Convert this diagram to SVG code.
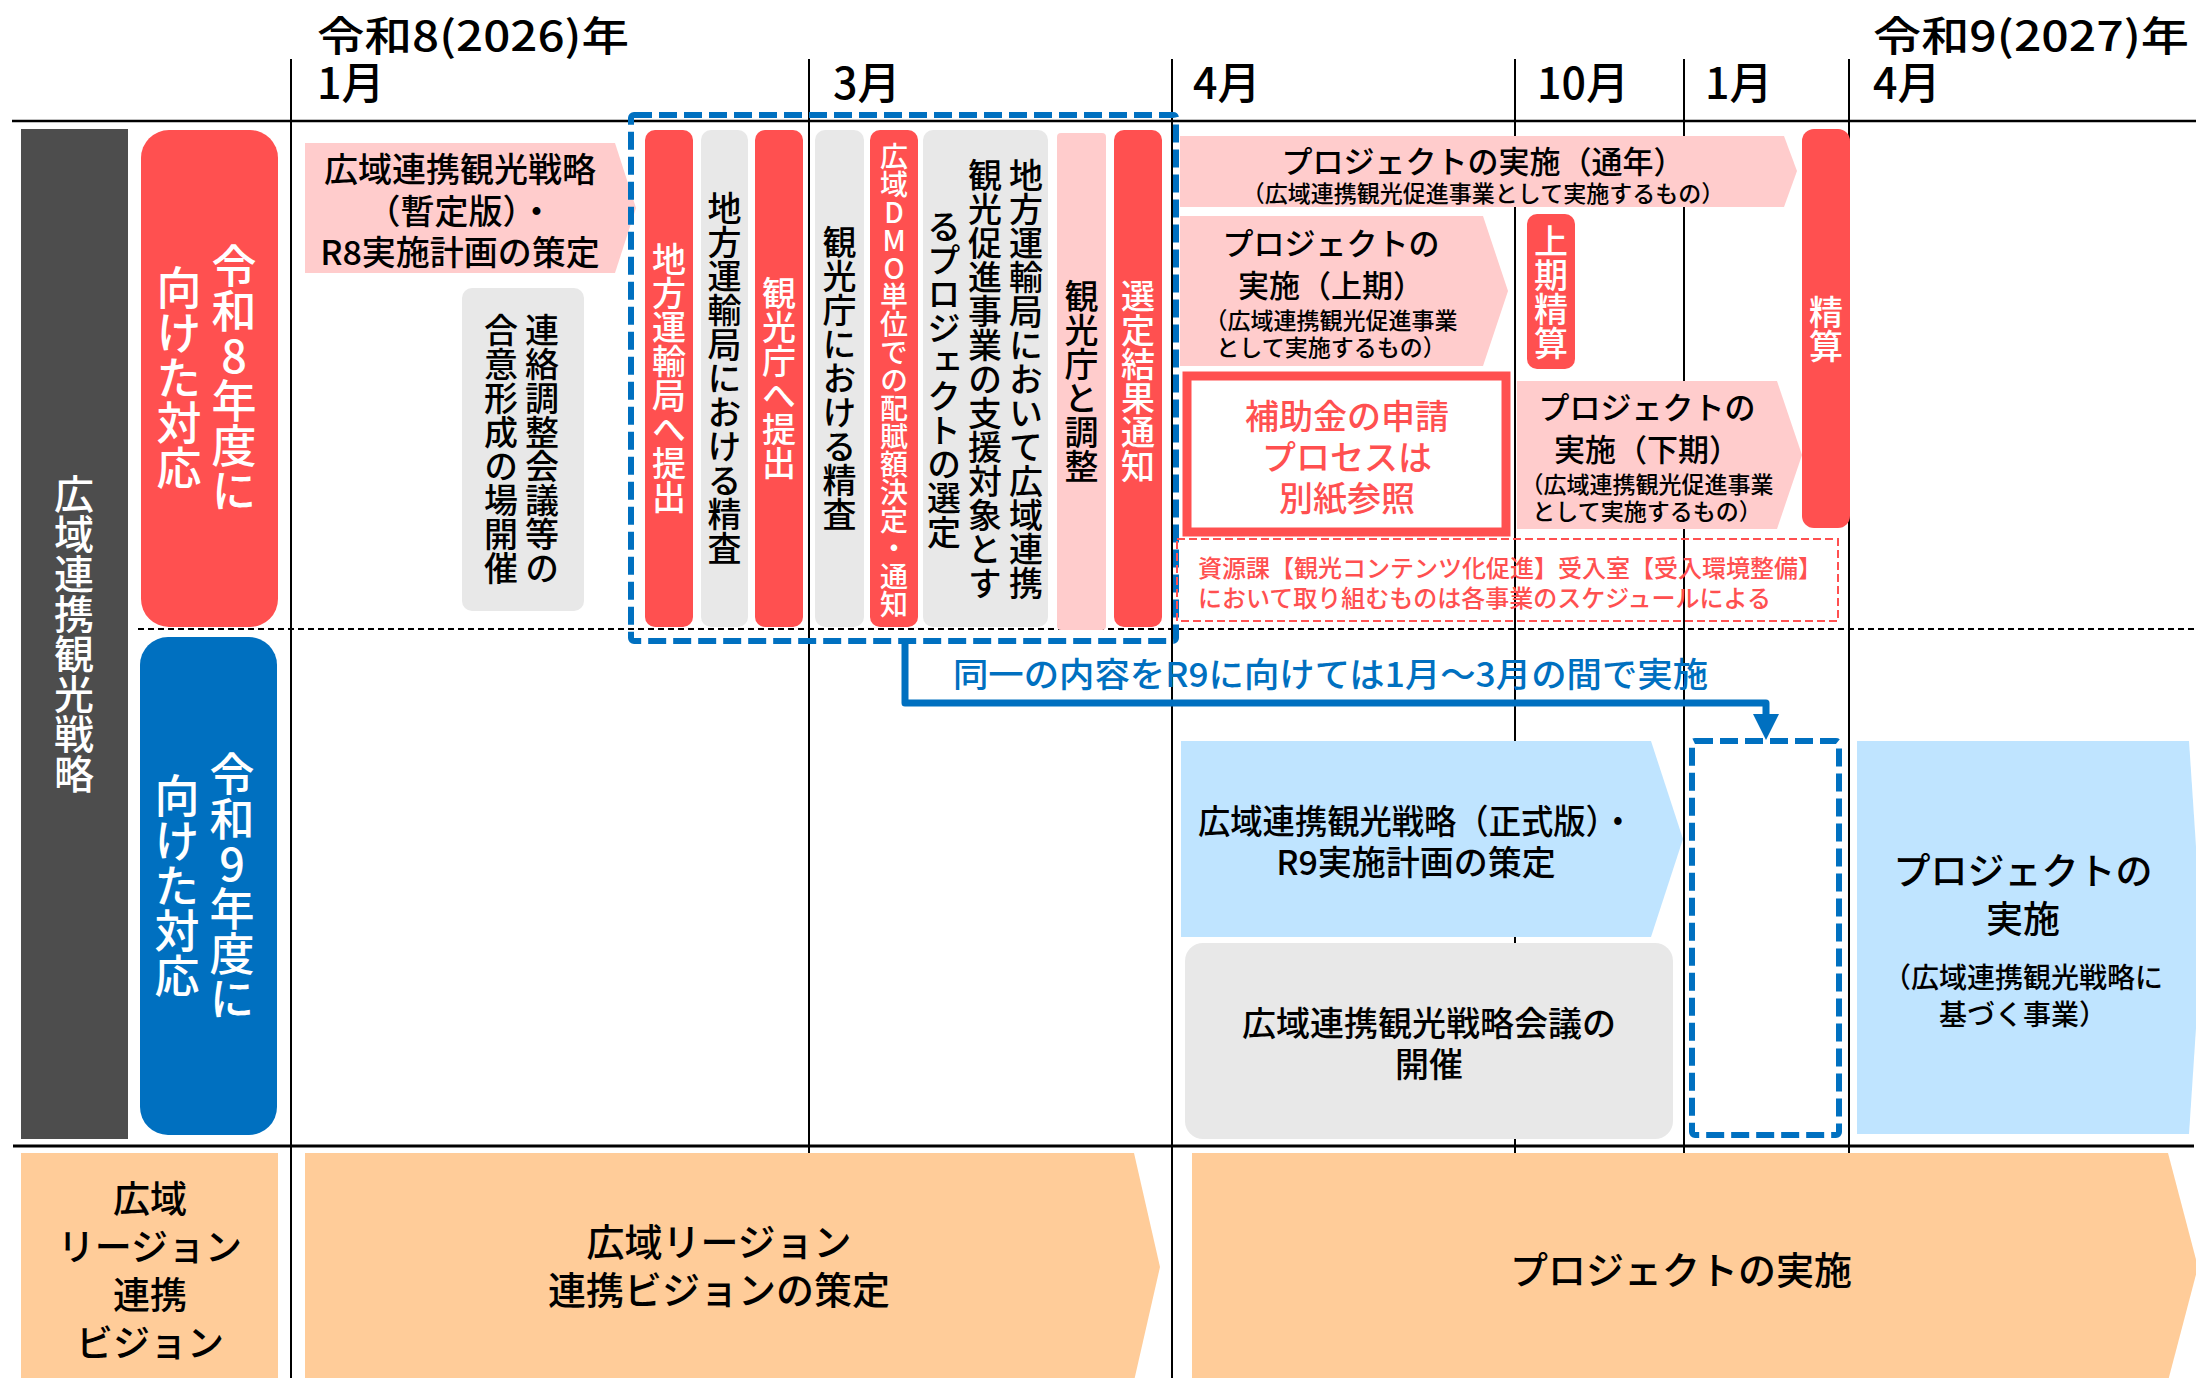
<svg xmlns="http://www.w3.org/2000/svg" width="2196" height="1378" viewBox="0 0 2196 1378">
<defs>
<style>
text { font-family: "Noto Sans CJK JP", "Noto Sans", sans-serif; font-weight: 500; }
.v { writing-mode: vertical-rl; text-orientation: upright; text-anchor: middle; }
.c { text-anchor: middle; }
.w { fill: #FFFFFF; }
.k { fill: #000000; }
.r { fill: #FF5050; }
.b { fill: #0070C0; }
.red { fill: #FF5050; }
.pink { fill: #FFCCCC; }
.gray { fill: #E8E8E8; }
.lblue { fill: #BFE4FF; }
.peach { fill: #FFCC99; }
.dgray { fill: #4D4D4D; }
.blue { fill: #0070C0; }
.grid { stroke: #000; stroke-width: 2; fill: none; }
.bdash { fill: none; stroke: #0070C0; stroke-width: 6; stroke-dasharray: 18 7; }
.h40 { font-size: 43px; }
.ht { font-size: 41px; }
.f34 { font-size: 34px; }
.f32 { font-size: 31px; }
.f23 { font-size: 23px; }
</style>
<marker id="ah" markerUnits="userSpaceOnUse" markerWidth="26" markerHeight="26" viewBox="0 0 26 26" refX="0" refY="13" orient="auto">
<path d="M0,0 L26,13 L0,26 z" fill="#0070C0"/>
</marker>
</defs>
<rect width="2196" height="1378" fill="#FFFFFF"/>

<g id="grid">
<path class="grid" d="M291,59 V1378 M809,59 V1378 M1172,59 V1378 M1515,59 V1378 M1684,59 V1378 M1849,59 V1378"/>
<path d="M12,121 H2196" stroke="#000" stroke-width="2.5"/>
<path d="M13,1146 H2194" stroke="#000" stroke-width="3"/>
<path d="M138,629 H2196" stroke="#000" stroke-width="2" stroke-dasharray="6 4"/>
</g>

<g id="header">
<text class="ht k" x="317" y="51" textLength="312" lengthAdjust="spacingAndGlyphs">令和8(2026)年</text>
<text class="h40 k" x="317" y="99">1月</text>
<text class="h40 k" x="833" y="99">3月</text>
<text class="h40 k" x="1193" y="99">4月</text>
<text class="h40 k" x="1537" y="99">10月</text>
<text class="h40 k" x="1705" y="99">1月</text>
<text class="ht k" x="1873" y="51" textLength="316" lengthAdjust="spacingAndGlyphs">令和9(2027)年</text>
<text class="h40 k" x="1873" y="99">4月</text>
</g>

<g id="strategy-label">
<rect class="dgray" x="21" y="129" width="107" height="1010"/>
<text class="v w" x="74" y="634" font-size="40">広域連携観光戦略</text>
</g>

<g id="r8-label">
<rect class="red" x="141" y="130" width="137" height="497" rx="28"/>
<text class="v w" x="234" y="378" font-size="45">令和8年度に</text>
<text class="v w" x="179" y="378" font-size="45">向けた対応</text>
</g>

<g id="r9-label">
<rect class="blue" x="140" y="637" width="137" height="498" rx="28"/>
<text class="v w" x="232" y="886" font-size="45">令和9年度に</text>
<text class="v w" x="177" y="886" font-size="45">向けた対応</text>
</g>

<g id="provisional-strategy">
<polygon class="pink" points="305,143 615,143 636,208 615,273 305,273"/>
<text class="c k f34" x="460" y="182">広域連携観光戦略</text>
<text class="c k f34" x="460" y="224">（暫定版）・</text>
<text class="c k f34" x="460" y="265">R8実施計画の策定</text>
</g>

<g id="liaison-meeting">
<rect class="gray" x="462" y="288" width="122" height="323" rx="10"/>
<text class="v k f34" x="542" y="449">連絡調整会議等の</text>
<text class="v k f34" x="501" y="449">合意形成の場開催</text>
</g>

<g id="bar-submit-bureau">
<rect class="red" x="645" y="130" width="48" height="497" rx="10"/>
<text class="v w f34" x="669" y="378">地方運輸局へ提出</text>
</g>
<g id="bar-bureau-review">
<rect class="gray" x="701" y="130" width="47" height="497" rx="10"/>
<text class="v k f34" x="724.5" y="378">地方運輸局における精査</text>
</g>
<g id="bar-submit-agency">
<rect class="red" x="755" y="130" width="48" height="497" rx="10"/>
<text class="v w f34" x="779" y="378">観光庁へ提出</text>
</g>
<g id="bar-agency-review">
<rect class="gray" x="815" y="130" width="49" height="497" rx="10"/>
<text class="v k f34" x="839.5" y="378">観光庁における精査</text>
</g>
<g id="bar-dmo-allocation">
<rect class="red" x="870" y="130" width="48" height="497" rx="10"/>
<text class="v w" x="894" y="380" font-size="28">広域DMO単位での配賦額決定・通知</text>
</g>
<g id="bar-selection">
<rect class="gray" x="923" y="130" width="125" height="497" rx="10"/>
<text class="v k f34" x="1026" y="379">地方運輸局において広域連携</text>
<text class="v k f34" x="985" y="379">観光促進事業の支援対象とす</text>
<text class="v k f34" x="944" y="379">るプロジェクトの選定</text>
</g>
<g id="bar-coordinate">
<rect class="pink" x="1057" y="133" width="49" height="497" rx="4"/>
<text class="v k f34" x="1081.5" y="381">観光庁と調整</text>
</g>
<g id="bar-notify">
<rect class="red" x="1114" y="130" width="48" height="497" rx="10"/>
<text class="v w f34" x="1138" y="381">選定結果通知</text>
</g>

<g id="r8-process-frame">
<rect class="bdash" x="631" y="115" width="545" height="526" rx="3"/>
</g>

<g id="project-fullyear">
<polygon class="pink" points="1180,136 1784,136 1797,171 1784,207 1180,207"/>
<text class="c k f32" x="1483" y="173">プロジェクトの実施（通年）</text>
<text class="c k f23" x="1483" y="202">（広域連携観光促進事業として実施するもの）</text>
</g>

<g id="project-first-half">
<polygon class="pink" points="1180,216 1483,216 1508,291 1483,366 1180,366"/>
<text class="c k f32" x="1331" y="255">プロジェクトの</text>
<text class="c k f32" x="1331" y="297">実施（上期）</text>
<text class="c k f23" x="1331" y="329">（広域連携観光促進事業</text>
<text class="c k f23" x="1331" y="356">として実施するもの）</text>
</g>

<g id="first-half-settlement">
<rect class="red" x="1527" y="214" width="48" height="155" rx="10"/>
<text class="v w f34" x="1551" y="292">上期精算</text>
</g>

<g id="settlement">
<rect class="red" x="1802" y="129" width="48" height="399" rx="12"/>
<text class="v w f34" x="1826" y="329">精算</text>
</g>

<g id="subsidy-note">
<rect x="1187" y="376" width="319" height="156" fill="#FFFFFF" stroke="#FF5050" stroke-width="9"/>
<text class="c r f34" x="1347" y="429">補助金の申請</text>
<text class="c r f34" x="1347" y="470">プロセスは</text>
<text class="c r f34" x="1347" y="511">別紙参照</text>
</g>

<g id="project-second-half">
<polygon class="pink" points="1517,381 1777,381 1802,455 1777,529 1517,529"/>
<text class="c k f32" x="1647" y="419">プロジェクトの</text>
<text class="c k f32" x="1647" y="461">実施（下期）</text>
<text class="c k f23" x="1647" y="493">（広域連携観光促進事業</text>
<text class="c k f23" x="1647" y="520">として実施するもの）</text>
</g>

<g id="other-dept-note">
<rect x="1177" y="539" width="661" height="82" fill="none" stroke="#FF5050" stroke-width="2" stroke-dasharray="8 4"/>
<text class="r" x="1198" y="577" font-size="24">資源課【観光コンテンツ化促進】受入室【受入環境整備】</text>
<text class="r" x="1198" y="607" font-size="24">において取り組むものは各事業のスケジュールによる</text>
</g>

<g id="formal-strategy">
<polygon class="lblue" points="1181,741 1651,741 1683,839 1651,937 1181,937"/>
<text class="c k f34" x="1416" y="834" textLength="436" lengthAdjust="spacingAndGlyphs">広域連携観光戦略（正式版）・</text>
<text class="c k f34" x="1416" y="875">R9実施計画の策定</text>
</g>

<g id="strategy-meeting">
<rect class="gray" x="1185" y="943" width="488" height="196" rx="18"/>
<text class="c k f34" x="1429" y="1036">広域連携観光戦略会議の</text>
<text class="c k f34" x="1429" y="1077">開催</text>
</g>

<g id="r9-process-slot">
<rect class="bdash" x="1692" y="741" width="147" height="394" rx="3"/>
</g>

<g id="project-r9">
<polygon class="lblue" points="1857,741 2189,741 2202,937 2189,1134 1857,1134"/>
<text class="c k" x="2023" y="885" font-size="37">プロジェクトの</text>
<text class="c k" x="2023" y="933" font-size="37">実施</text>
<text class="c k" x="2023" y="988" font-size="28">（広域連携観光戦略に</text>
<text class="c k" x="2023" y="1025" font-size="28">基づく事業）</text>
</g>

<g id="vision-label">
<rect class="peach" x="21" y="1153" width="257" height="230"/>
<text class="c k" x="150" y="1213" font-size="37">広域</text>
<text class="c k" x="150" y="1261" font-size="37">リージョン</text>
<text class="c k" x="150" y="1309" font-size="37">連携</text>
<text class="c k" x="150" y="1357" font-size="37">ビジョン</text>
</g>

<g id="vision-formulation">
<polygon class="peach" points="305,1153 1134,1153 1160,1267 1134,1381 305,1381"/>
<text class="c k" x="719" y="1256" font-size="38">広域リージョン</text>
<text class="c k" x="719" y="1304" font-size="38">連携ビジョンの策定</text>
</g>

<g id="vision-implementation">
<polygon class="peach" points="1192,1153 2168,1153 2198,1267 2168,1381 1192,1381"/>
<text class="c k" x="1681" y="1284" font-size="38">プロジェクトの実施</text>
</g>

<g id="connectors">
<path d="M905,641 V703 H1766 V714" fill="none" stroke="#0070C0" stroke-width="7" stroke-linejoin="round" marker-end="url(#ah)"/>
<text class="b" x="953" y="687" font-size="34" textLength="755" lengthAdjust="spacingAndGlyphs">同一の内容をR9に向けては1月～3月の間で実施</text>
</g>
</svg>
